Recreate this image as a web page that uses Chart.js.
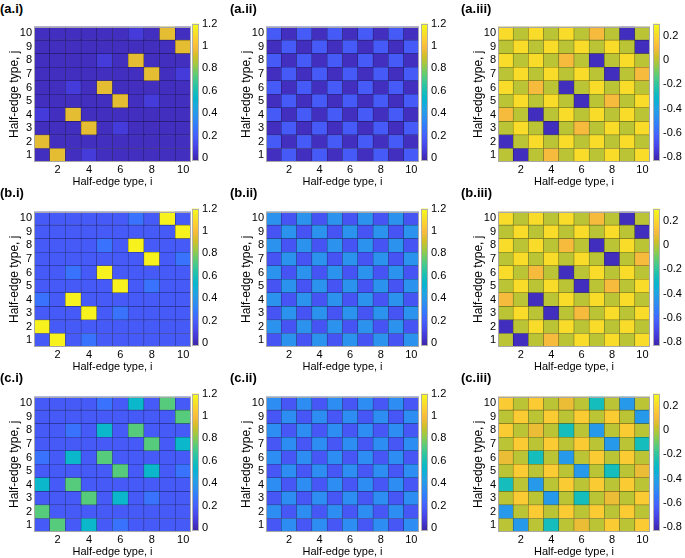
<!DOCTYPE html>
<html>
<head>
<meta charset="utf-8">
<script src="https://cdn.jsdelivr.net/npm/chart.js@4/dist/chart.umd.min.js"></script>
<style>
html,body{margin:0;padding:0;background:#fff;}
#root{position:relative;width:685px;height:558px;overflow:hidden;background:#fff;}
#root canvas{position:absolute;}
.lbl{position:absolute;font:bold 13px "Liberation Sans",Arial,sans-serif;line-height:16px;color:#000;white-space:nowrap;}
</style>
</head>
<body>
<div id="root"></div>
<script>
// ---------------- data ----------------
const categories = [1, 2, 3, 4, 5, 6, 7, 8, 9, 10];
const xTickLabels = ['2', '4', '6', '8', '10'];
const yTickLabels = ['1', '2', '3', '4', '5', '6', '7', '8', '9', '10'];
const xTitle = 'Half-edge type, i';
const yTitle = 'Half-edge type, j';
const panelLabels = ['(a.i)', '(a.ii)', '(a.iii)', '(b.i)', '(b.ii)', '(b.iii)', '(c.i)', '(c.ii)', '(c.iii)'];

const cbTicksPos = [0, 0.2, 0.4, 0.6, 0.8, 1, 1.2];
const cbTickLabelsPos = ['0', '0.2', '0.4', '0.6', '0.8', '1', '1.2'];
const cbTicksSigned = [-0.8, -0.6, -0.4, -0.2, 0, 0.2];
const cbTickLabelsSigned = ['-0.8', '-0.6', '-0.4', '-0.2', '0', '0.2'];
const climPos = [-0.02, 1.2];
const climSigned = [-0.825, 0.3];

// rows: j = 1 (bottom) ... 10 (top); columns: i = 1 ... 10
const a_i = [
  [0.02,0.95,0.02,0.07,0.02,0.02,0.02,0.02,0.02,0.02],
  [0.95,0.02,0.02,0.02,0.02,0.02,0.02,0.02,0.02,0.02],
  [0.02,0.02,0.02,0.95,0.02,0.07,0.02,0.02,0.02,0.02],
  [0.07,0.02,0.95,0.02,0.02,0.02,0.02,0.02,0.02,0.02],
  [0.02,0.02,0.02,0.02,0.02,0.95,0.02,0.07,0.02,0.02],
  [0.02,0.02,0.07,0.02,0.95,0.02,0.02,0.02,0.02,0.02],
  [0.02,0.02,0.02,0.02,0.02,0.02,0.02,0.95,0.02,0.07],
  [0.02,0.02,0.02,0.02,0.07,0.02,0.95,0.02,0.02,0.02],
  [0.02,0.02,0.02,0.02,0.02,0.02,0.02,0.02,0.02,0.95],
  [0.02,0.02,0.02,0.02,0.02,0.02,0.07,0.02,0.95,0.02]
];
const a_ii = [
  [0.02,0.18,0.02,0.18,0.02,0.18,0.02,0.18,0.02,0.18],
  [0.18,0.02,0.18,0.02,0.18,0.02,0.18,0.02,0.18,0.02],
  [0.02,0.18,0.02,0.18,0.02,0.18,0.02,0.18,0.02,0.18],
  [0.18,0.02,0.18,0.02,0.18,0.02,0.18,0.02,0.18,0.02],
  [0.02,0.18,0.02,0.18,0.02,0.18,0.02,0.18,0.02,0.18],
  [0.18,0.02,0.18,0.02,0.18,0.02,0.18,0.02,0.18,0.02],
  [0.02,0.18,0.02,0.18,0.02,0.18,0.02,0.18,0.02,0.18],
  [0.18,0.02,0.18,0.02,0.18,0.02,0.18,0.02,0.18,0.02],
  [0.02,0.18,0.02,0.18,0.02,0.18,0.02,0.18,0.02,0.18],
  [0.18,0.02,0.18,0.02,0.18,0.02,0.18,0.02,0.18,0.02]
];
const a_iii = [
  [0,-0.79,0,0.1,0,0.21,0,0.21,0,0.21],
  [-0.79,0,0.21,0,0.21,0,0.21,0,0.21,0],
  [0,0.21,0,-0.79,0,0.1,0,0.21,0,0.21],
  [0.1,0,-0.79,0,0.21,0,0.21,0,0.21,0],
  [0,0.21,0,0.21,0,-0.79,0,0.1,0,0.21],
  [0.21,0,0.1,0,-0.79,0,0.21,0,0.21,0],
  [0,0.21,0,0.21,0,0.21,0,-0.79,0,0.1],
  [0.21,0,0.21,0,0.1,0,-0.79,0,0.21,0],
  [0,0.21,0,0.21,0,0.21,0,0.21,0,-0.79],
  [0.21,0,0.21,0,0.21,0,0.1,0,-0.79,0]
];
const b_i = [
  [0.18,1.17,0.18,0.26,0.18,0.18,0.18,0.18,0.18,0.18],
  [1.17,0.18,0.18,0.18,0.18,0.18,0.18,0.18,0.18,0.18],
  [0.18,0.18,0.18,1.17,0.18,0.26,0.18,0.18,0.18,0.18],
  [0.26,0.18,1.17,0.18,0.18,0.18,0.18,0.18,0.18,0.18],
  [0.18,0.18,0.18,0.18,0.18,1.17,0.18,0.26,0.18,0.18],
  [0.18,0.18,0.26,0.18,1.17,0.18,0.18,0.18,0.18,0.18],
  [0.18,0.18,0.18,0.18,0.18,0.18,0.18,1.17,0.18,0.26],
  [0.18,0.18,0.18,0.18,0.26,0.18,1.17,0.18,0.18,0.18],
  [0.18,0.18,0.18,0.18,0.18,0.18,0.18,0.18,0.18,1.17],
  [0.18,0.18,0.18,0.18,0.18,0.18,0.26,0.18,1.17,0.18]
];
const b_ii = [
  [0.16,0.37,0.16,0.37,0.16,0.37,0.16,0.37,0.16,0.37],
  [0.37,0.16,0.37,0.16,0.37,0.16,0.37,0.16,0.37,0.16],
  [0.16,0.37,0.16,0.37,0.16,0.37,0.16,0.37,0.16,0.37],
  [0.37,0.16,0.37,0.16,0.37,0.16,0.37,0.16,0.37,0.16],
  [0.16,0.37,0.16,0.37,0.16,0.37,0.16,0.37,0.16,0.37],
  [0.37,0.16,0.37,0.16,0.37,0.16,0.37,0.16,0.37,0.16],
  [0.16,0.37,0.16,0.37,0.16,0.37,0.16,0.37,0.16,0.37],
  [0.37,0.16,0.37,0.16,0.37,0.16,0.37,0.16,0.37,0.16],
  [0.16,0.37,0.16,0.37,0.16,0.37,0.16,0.37,0.16,0.37],
  [0.37,0.16,0.37,0.16,0.37,0.16,0.37,0.16,0.37,0.16]
];
const b_iii = [
  [0,-0.79,0,0.1,0,0.21,0,0.21,0,0.21],
  [-0.79,0,0.21,0,0.21,0,0.21,0,0.21,0],
  [0,0.21,0,-0.79,0,0.1,0,0.21,0,0.21],
  [0.1,0,-0.79,0,0.21,0,0.21,0,0.21,0],
  [0,0.21,0,0.21,0,-0.79,0,0.1,0,0.21],
  [0.21,0,0.1,0,-0.79,0,0.21,0,0.21,0],
  [0,0.21,0,0.21,0,0.21,0,-0.79,0,0.1],
  [0.21,0,0.21,0,0.1,0,-0.79,0,0.21,0],
  [0,0.21,0,0.21,0,0.21,0,0.21,0,-0.79],
  [0.21,0,0.21,0,0.21,0,0.1,0,-0.79,0]
];
const c_i = [
  [0.18,0.73,0.18,0.54,0.18,0.26,0.18,0.18,0.18,0.18],
  [0.73,0.18,0.18,0.18,0.18,0.18,0.18,0.18,0.18,0.18],
  [0.18,0.18,0.18,0.73,0.18,0.54,0.18,0.26,0.18,0.18],
  [0.54,0.18,0.73,0.18,0.18,0.18,0.18,0.18,0.18,0.18],
  [0.18,0.18,0.18,0.18,0.18,0.73,0.18,0.54,0.18,0.26],
  [0.26,0.18,0.54,0.18,0.73,0.18,0.18,0.18,0.18,0.18],
  [0.18,0.18,0.18,0.18,0.18,0.18,0.18,0.73,0.18,0.54],
  [0.18,0.18,0.26,0.18,0.54,0.18,0.73,0.18,0.18,0.18],
  [0.18,0.18,0.18,0.18,0.18,0.18,0.18,0.18,0.18,0.73],
  [0.18,0.18,0.18,0.18,0.26,0.18,0.54,0.18,0.73,0.18]
];
const c_ii = [
  [0.17,0.35,0.17,0.35,0.17,0.35,0.17,0.35,0.17,0.35],
  [0.35,0.17,0.35,0.17,0.35,0.17,0.35,0.17,0.35,0.17],
  [0.17,0.35,0.17,0.35,0.17,0.35,0.17,0.35,0.17,0.35],
  [0.35,0.17,0.35,0.17,0.35,0.17,0.35,0.17,0.35,0.17],
  [0.17,0.35,0.17,0.35,0.17,0.35,0.17,0.35,0.17,0.35],
  [0.35,0.17,0.35,0.17,0.35,0.17,0.35,0.17,0.35,0.17],
  [0.17,0.35,0.17,0.35,0.17,0.35,0.17,0.35,0.17,0.35],
  [0.35,0.17,0.35,0.17,0.35,0.17,0.35,0.17,0.35,0.17],
  [0.17,0.35,0.17,0.35,0.17,0.35,0.17,0.35,0.17,0.35],
  [0.35,0.17,0.35,0.17,0.35,0.17,0.35,0.17,0.35,0.17]
];
const c_iii = [
  [0,-0.44,0,-0.27,0,0.08,0,0.16,0,0.16],
  [-0.44,0,0.16,0,0.16,0,0.16,0,0.16,0],
  [0,0.16,0,-0.44,0,-0.27,0,0.08,0,0.16],
  [-0.27,0,-0.44,0,0.16,0,0.16,0,0.16,0],
  [0,0.16,0,0.16,0,-0.44,0,-0.27,0,0.08],
  [0.08,0,-0.27,0,-0.44,0,0.16,0,0.16,0],
  [0,0.16,0,0.16,0,0.16,0,-0.44,0,-0.27],
  [0.16,0,0.08,0,-0.27,0,-0.44,0,0.16,0],
  [0,0.16,0,0.16,0,0.16,0,0.16,0,-0.44],
  [0.16,0,0.16,0,0.08,0,-0.27,0,-0.44,0]
];

// ---------------- style / layout ----------------
const FONT = '"Liberation Sans", Arial, Helvetica, sans-serif';
Chart.defaults.font.family = FONT;
Chart.defaults.color = '#000';

// MATLAB parula colormap stops (R2017a)
const PARULA = [
  [0.2422,0.1504,0.6603],[0.2706,0.2147,0.8364],[0.2813,0.3006,0.9414],[0.2699,0.3892,0.9906],
  [0.1963,0.4847,0.9892],[0.1687,0.5703,0.9359],[0.1248,0.6459,0.8883],[0.0297,0.7082,0.8163],
  [0.0964,0.7500,0.7120],[0.2161,0.7843,0.5923],[0.3909,0.8029,0.4354],[0.6174,0.7876,0.2612],
  [0.8203,0.7498,0.1535],[0.9728,0.7298,0.2394],[0.9892,0.8136,0.1885],[0.9597,0.9135,0.1423],
  [0.9769,0.9839,0.0805]
];
const PARULA_POS = [0,4,8,12,16,20,24,28,32,36,40,44,48,52,56,60,63].map(k => k / 63);

function parulaRGB(t) {
  t = Math.max(0, Math.min(1, t));
  let k = 0;
  while (k < PARULA_POS.length - 2 && t > PARULA_POS[k + 1]) k++;
  const f = (t - PARULA_POS[k]) / (PARULA_POS[k + 1] - PARULA_POS[k]);
  const a = PARULA[k], b = PARULA[k + 1];
  return a.map((v, n) => 255 * (v + (b[n] - v) * f));
}
function parula(t, shade) {
  const s = shade === undefined ? 1 : shade;
  const c = parulaRGB(t).map(v => Math.round(v * s));
  return `rgb(${c[0]},${c[1]},${c[2]})`;
}

const colLeft = [34, 266, 498];
const colWidth = [157, 153, 152];
const rowTop = [22, 207, 392];
const plotH = 140;
const cbLeft = [192, 421, 653];
const cbW = 7;
const lblLeft = [0, 230, 461];
const lblTop = [1, 185, 370];

const panels = [
  { m: a_i,   row: 0, col: 0, clim: climPos,    ticks: cbTicksPos,    tickLabels: cbTickLabelsPos },
  { m: a_ii,  row: 0, col: 1, clim: climPos,    ticks: cbTicksPos,    tickLabels: cbTickLabelsPos },
  { m: a_iii, row: 0, col: 2, clim: climSigned, ticks: cbTicksSigned, tickLabels: cbTickLabelsSigned },
  { m: b_i,   row: 1, col: 0, clim: climPos,    ticks: cbTicksPos,    tickLabels: cbTickLabelsPos },
  { m: b_ii,  row: 1, col: 1, clim: climPos,    ticks: cbTicksPos,    tickLabels: cbTickLabelsPos },
  { m: b_iii, row: 1, col: 2, clim: climSigned, ticks: cbTicksSigned, tickLabels: cbTickLabelsSigned },
  { m: c_i,   row: 2, col: 0, clim: climPos,    ticks: cbTicksPos,    tickLabels: cbTickLabelsPos },
  { m: c_ii,  row: 2, col: 1, clim: climPos,    ticks: cbTicksPos,    tickLabels: cbTickLabelsPos },
  { m: c_iii, row: 2, col: 2, clim: climSigned, ticks: cbTicksSigned, tickLabels: cbTickLabelsSigned }
];

const root = document.getElementById('root');

const boxPlugin = {
  id: 'axisBox',
  afterDatasetsDraw(chart, args, opts) {
    const { ctx, chartArea: a } = chart;
    ctx.save();
    ctx.strokeStyle = opts.color || '#a0a0a0';
    ctx.lineWidth = 1;
    ctx.strokeRect(Math.round(a.left) + 0.5, Math.round(a.top) + 0.5,
                   Math.round(a.right - a.left) - 1, Math.round(a.bottom - a.top) - 1);
    ctx.restore();
  }
};

function makeCanvas(left, top, w, h) {
  const cv = document.createElement('canvas');
  cv.width = w; cv.height = h;
  cv.style.left = left + 'px'; cv.style.top = top + 'px';
  cv.style.width = w + 'px'; cv.style.height = h + 'px';
  root.appendChild(cv);
  return cv;
}

function makeHeatmap(p) {
  const yAxisW = 34, xAxisH = 28, padT = 4, padR = 3;
  const L = colLeft[p.col], W = colWidth[p.col], T = rowTop[p.row];
  const cv = makeCanvas(L - yAxisW, T - padT, W + yAxisW + padR, plotH + padT + xAxisH);
  const [lo, hi] = p.clim;
  const datasets = p.m.map((rowVals, r) => ({
    data: rowVals.map(() => [categories[r] - 0.5, categories[r] + 0.5]),
    backgroundColor: rowVals.map(v => parula((v - lo) / (hi - lo))),
    borderColor: rowVals.map(v => parula((v - lo) / (hi - lo), 0.55)),
    borderWidth: 0.6,
    borderSkipped: false,
    barPercentage: 1,
    categoryPercentage: 1,
    grouped: false
  }));
  new Chart(cv, {
    type: 'bar',
    data: { labels: categories.map(String), datasets },
    options: {
      responsive: false, animation: false, devicePixelRatio: 1,
      layout: { padding: { top: padT, right: padR, left: 0, bottom: 0 } },
      plugins: { legend: { display: false }, tooltip: { enabled: false }, axisBox: { color: '#a8a8a8' } },
      scales: {
        x: {
          type: 'category', offset: true,
          grid: { display: false, drawTicks: false }, border: { display: false },
          ticks: {
            autoSkip: false, maxRotation: 0, minRotation: 0, padding: 1, color: '#000',
            font: { size: 11 },
            callback: function (v) { const l = this.getLabelForValue(v); return xTickLabels.includes(l) ? l : ''; }
          },
          title: { display: true, text: xTitle, color: '#000', font: { size: 11 }, padding: { top: 0, bottom: 1 } },
          afterFit: s => { s.height = xAxisH; }
        },
        y: {
          type: 'linear', min: 0.5, max: 10.5,
          grid: { display: false, drawTicks: false }, border: { display: false },
          afterBuildTicks: s => { s.ticks = categories.map(v => ({ value: v })); },
          ticks: { autoSkip: false, padding: 2, color: '#000', font: { size: 11 },
                   callback: v => yTickLabels[categories.indexOf(v)] },
          title: { display: true, text: yTitle, color: '#000', font: { size: 12 }, padding: { top: 7, bottom: 0 } },
          afterFit: s => { s.width = yAxisW; }
        }
      }
    },
    plugins: [boxPlugin]
  });
}

function makeColorbar(p) {
  const axisW = 30, padV = 8;
  const L = cbLeft[p.col], T = rowTop[p.row];
  const cv = makeCanvas(L, T - padV, cbW + axisW, plotH + 2 * padV);
  const [lo, hi] = p.clim;
  new Chart(cv, {
    type: 'bar',
    data: {
      labels: ['colorbar'],
      datasets: [{
        data: [[lo, hi]],
        backgroundColor: (ctx) => {
          const a = ctx.chart.chartArea;
          if (!a) return parula(0.5);
          const g = ctx.chart.ctx.createLinearGradient(0, a.bottom, 0, a.top);
          for (let k = 0; k <= 64; k++) g.addColorStop(k / 64, parula(k / 64));
          return g;
        },
        borderWidth: 0, barPercentage: 1, categoryPercentage: 1
      }]
    },
    options: {
      responsive: false, animation: false, devicePixelRatio: 1,
      layout: { padding: { top: padV, bottom: padV, left: 0, right: 0 } },
      plugins: { legend: { display: false }, tooltip: { enabled: false }, axisBox: { color: '#b0b0b0' } },
      scales: {
        x: { display: false, offset: true },
        y: {
          position: 'right', min: lo, max: hi,
          grid: { display: false, drawTicks: false }, border: { display: false },
          afterBuildTicks: s => { s.ticks = p.ticks.map(v => ({ value: v })); },
          ticks: { autoSkip: false, padding: 3, color: '#000', font: { size: 11 },
                   callback: v => p.tickLabels[p.ticks.indexOf(v)] },
          afterFit: s => { s.width = axisW; }
        }
      }
    },
    plugins: [boxPlugin]
  });
}

panels.forEach((p, idx) => {
  makeHeatmap(p);
  makeColorbar(p);
  const d = document.createElement('div');
  d.className = 'lbl';
  d.textContent = panelLabels[idx];
  d.style.left = lblLeft[p.col] + 'px';
  d.style.top = lblTop[p.row] + 'px';
  root.appendChild(d);
});
</script>
</body>
</html>
